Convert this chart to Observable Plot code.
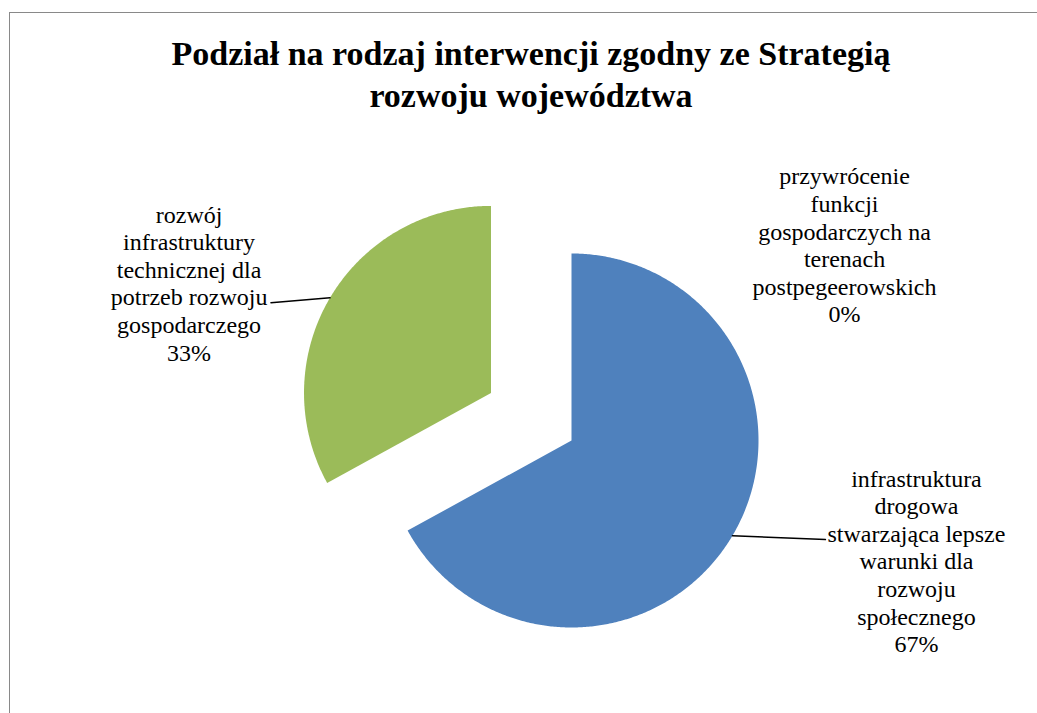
<!DOCTYPE html>
<html>
<head>
<meta charset="utf-8">
<script src="https://cdn.jsdelivr.net/npm/d3@7"></script>
<script src="https://cdn.jsdelivr.net/npm/@observablehq/plot@0.6"></script>
<style>
  html, body { margin: 0; padding: 0; background: #fff; overflow: hidden; }
  #page { position: relative; width: 1037px; height: 713px; overflow: hidden; background: #fff; }
  #frame { position: absolute; left: 9px; top: 12px; width: 1100px; height: 800px;
           border-top: 1.5px solid #898989; border-left: 1.5px solid #898989; box-sizing: border-box; }
  #title { position: absolute; left: 9px; width: 1044px; top: 33px; text-align: center;
           font-family: "Liberation Serif", "Times New Roman", Tinos, "DejaVu Serif", serif; font-weight: bold;
           font-size: 34px; line-height: 42px; color: #000; }
  #chart { position: absolute; left: 0; top: 120px; }
  #chart text { font-family: "Liberation Serif", "Times New Roman", Tinos, "DejaVu Serif", serif; }
</style>
</head>
<body>
<div id="page">
  <div id="frame"></div>
  <div id="title">Podział na rodzaj interwencji zgodny ze Strategią<br>rozwoju województwa</div>
  <div id="chart"></div>
</div>
<script>
// ---- data ----
const categories = [
  "infrastruktura drogowa stwarzająca lepsze warunki dla rozwoju społecznego",
  "rozwój infrastruktury technicznej dla potrzeb rozwoju gospodarczego",
  "przywrócenie funkcji gospodarczych na terenach postpegeerowskich"
];
const shares = [67, 33, 0];
const labelLines = [
  ["infrastruktura", "drogowa", "stwarzająca lepsze", "warunki dla", "rozwoju", "społecznego"],
  ["rozwój", "infrastruktury", "technicznej dla", "potrzeb rozwoju", "gospodarczego"],
  ["przywrócenie", "funkcji", "gospodarczych na", "terenach", "postpegeerowskich"]
];
const colors = ["#4F81BD", "#9BBB59", "#C0504D"];

// ---- layout (pixels / radius units) ----
const W = 1037, H = 713, svgTop = 120;
const cx = 571, cy = 440, r = 187;          // pie centre on page, radius
const explode = [0, 0.5, 0];                 // in radius units
const leaderOffset = [[0.497, -0.021], [-0.316, -0.027], null];
const labelOffset = [[0.487, -0.112], [-0.438, 0.107], [1.46, 0.048]];

const arcs = d3.pie().sort(null).value(d => d)(shares);

const slicePts = [];
const leaderPts = [];
const labels = [];
arcs.forEach((a, i) => {
  const mid = (a.startAngle + a.endAngle) / 2;
  const ox = explode[i] * Math.sin(mid), oy = explode[i] * Math.cos(mid);
  if (a.value > 0) {
    slicePts.push({cat: categories[i], x: ox, y: oy});
    const n = Math.max(2, Math.ceil((a.endAngle - a.startAngle) / (Math.PI / 360)));
    for (let k = 0; k <= n; k++) {
      const t = a.startAngle + (a.endAngle - a.startAngle) * k / n;
      slicePts.push({cat: categories[i], x: ox + Math.sin(t), y: oy + Math.cos(t)});
    }
    slicePts.push({cat: categories[i], x: ox, y: oy});
  }
  const ax = ox + Math.sin(mid), ay = oy + Math.cos(mid);
  let ex = ax, ey = ay;
  if (leaderOffset[i]) {
    ex = ax + leaderOffset[i][0]; ey = ay + leaderOffset[i][1];
    leaderPts.push({cat: categories[i], x: ax, y: ay});
    leaderPts.push({cat: categories[i], x: ex, y: ey});
  }
  labels.push({
    cat: categories[i],
    x: ex + labelOffset[i][0],
    y: ey + labelOffset[i][1],
    text: labelLines[i].join("\n") + "\n" + shares[i] + "%"
  });
});

const svgH = H - svgTop;
const chart = Plot.plot({
  width: W,
  height: svgH,
  margin: 0,
  style: {background: "transparent", overflow: "visible", fontFamily: "'Liberation Serif', 'Times New Roman', serif"},
  x: {domain: [(0 - cx) / r, (W - cx) / r], axis: null},
  y: {domain: [(cy - H) / r, (cy - svgTop) / r], axis: null},
  color: {type: "ordinal", domain: categories, range: colors},
  marks: [
    Plot.line(slicePts, {x: "x", y: "y", z: "cat", fill: "cat", stroke: "none", curve: "linear"}),
    Plot.line(leaderPts, {x: "x", y: "y", z: "cat", stroke: "#000", strokeWidth: 1.5}),
    Plot.text(labels, {x: "x", y: "y", text: "text", fontSize: 24, lineHeight: 1.15,
      fontFamily: "Liberation Serif", textAnchor: "middle", fill: "#000"})
  ]
});
document.getElementById("chart").appendChild(chart);
</script>
</body>
</html>
